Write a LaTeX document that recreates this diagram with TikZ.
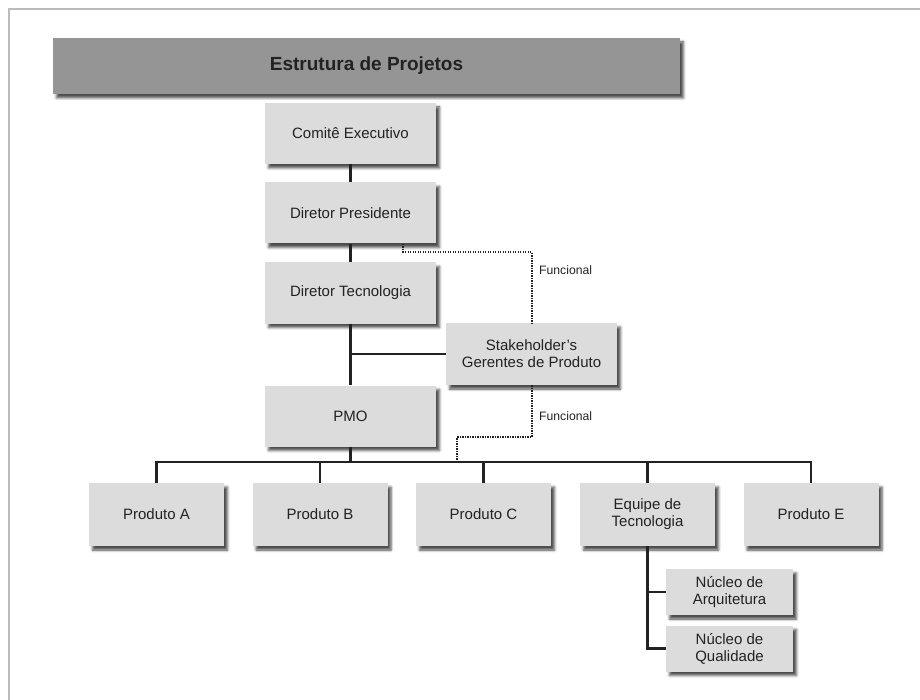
\documentclass[tikz,border=0pt]{standalone}
\usepackage{fontspec}
\setmainfont{Liberation Sans}
\usetikzlibrary{shadows.blur}
\definecolor{boxfill}{HTML}{DCDCDC}
\definecolor{titlefill}{HTML}{959595}
\definecolor{txt}{HTML}{222222}
\definecolor{bordercol}{HTML}{BBBBBB}
\begin{document}
\begin{tikzpicture}[x=1pt,y=-1pt,
  shad/.style={blur shadow={shadow xshift=3.5pt, shadow yshift=-4pt, shadow blur radius=2.5pt, shadow opacity=70}},
  box/.style={shad, fill=boxfill, draw=none, inner sep=0pt, align=center, text=txt,
    font=\fontsize{15}{17}\selectfont, minimum width=171pt, minimum height=61pt},
  pbox/.style={box, minimum width=135pt, minimum height=63pt},
  nbox/.style={box, minimum width=127pt, minimum height=46pt},
  titlebox/.style={shad, fill=titlefill, draw=none, inner sep=0pt, text=txt,
    font=\fontsize{19}{21}\selectfont\bfseries, minimum width=627pt, minimum height=56pt},
  conn/.style={draw=txt, line width=2.2pt},
  dots/.style={draw=txt, line width=2pt, dash pattern=on 1.4pt off 1.1pt},
  lbl/.style={text=txt, font=\fontsize{12.2}{14}\selectfont, inner sep=0pt, anchor=west}]
\useasboundingbox (0,0) rectangle (920,700);
\draw[bordercol, line width=2pt] (9,701) -- (9,9) -- (921,9);

\node[titlebox] (title) at (366.5,66) {Estrutura de Projetos};

\node[box] (ce) at (350.5,133.5) {Comitê Executivo};
\node[box] (dp) at (350.5,213) {Diretor Presidente};
\node[box] (dt) at (350.5,293) {Diretor Tecnologia};
\node[box, minimum height=62pt] (sh) at (531.5,354) {Stakeholder’s\\Gerentes de Produto};
\node[box] (pmo) at (350.5,416) {PMO};

\node[pbox] (pa) at (156.5,514.5) {Produto A};
\node[pbox] (pb) at (320,514.5) {Produto B};
\node[pbox] (pc) at (483.5,514.5) {Produto C};
\node[pbox] (eq) at (647.5,514.5) {Equipe de\\Tecnologia};
\node[pbox] (pe) at (811,514.5) {Produto E};

\node[nbox] (na) at (729.5,592) {Núcleo de\\Arquitetura};
\node[nbox] (nq) at (729.5,648.5) {Núcleo de\\Qualidade};

\node[lbl] (f1) at (539,270) {Funcional};
\node[lbl] (f2) at (539,416) {Funcional};

\coordinate (bus) at (0,462);
\draw[conn] (ce.south) -- (dp.north);
\draw[conn] (dp.south) -- (dt.north);
\draw[conn] (dt.south) -- (pmo.north);
\draw[conn] (dt.south |- sh.west) -- (sh.west);
\draw[conn] (pmo.south) -- (pmo.south |- bus);
\draw[conn] (pa.north) -- (pa.north |- bus) -- (pe.north |- bus) -- (pe.north);
\draw[conn] (pb.north) -- (pb.north |- bus);
\draw[conn] (pc.north) -- (pc.north |- bus);
\draw[conn] (eq.north) -- (eq.north |- bus);
\draw[conn] (eq.south) -- (eq.south |- nq.west) -- (nq.west);
\draw[conn] (eq.south |- na.west) -- (na.west);

\coordinate (d1) at ([xshift=52.5pt]dp.south);
\draw[dots] (d1) -- ++(0,8) -| (sh.north);
\coordinate (d2) at (457,462);
\draw[dots] (sh.south) -- ++(0,52) -| (d2);
\end{tikzpicture}
\end{document}
